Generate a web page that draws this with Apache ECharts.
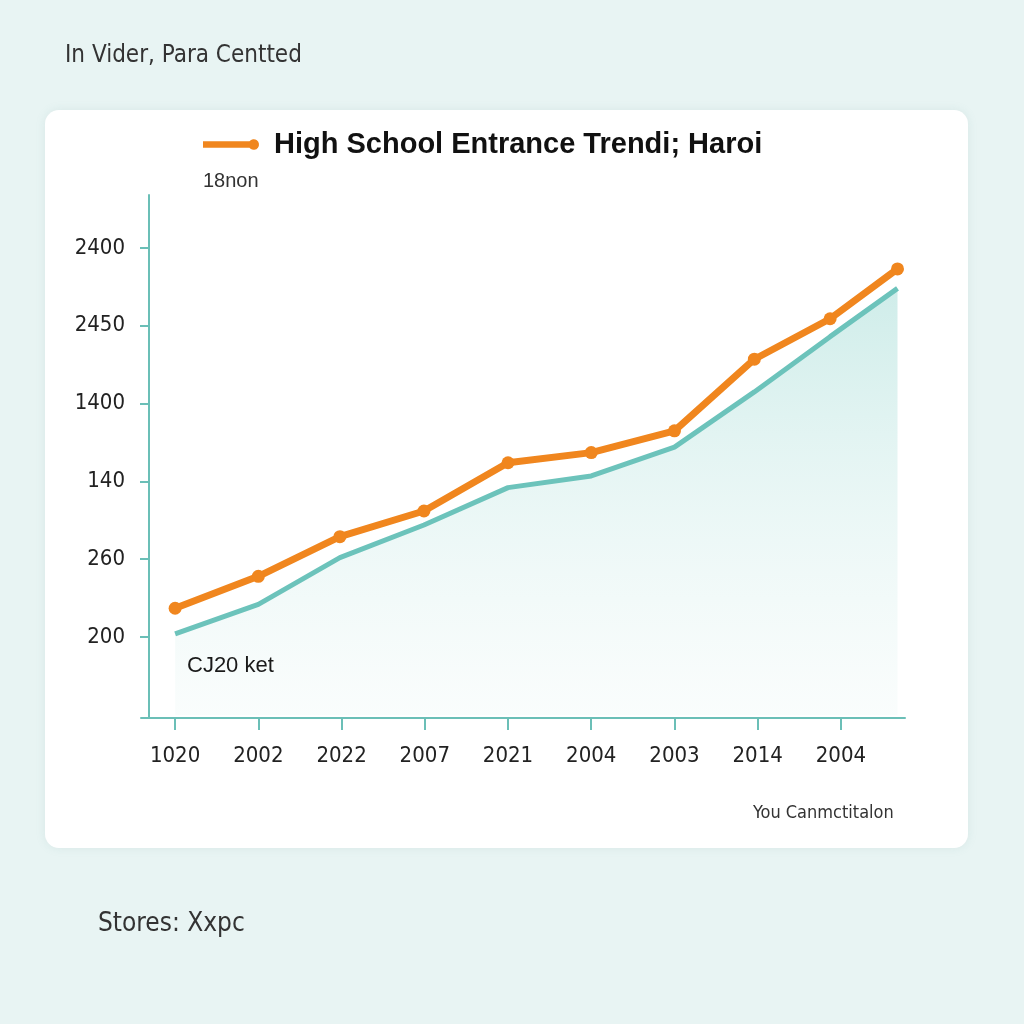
<!DOCTYPE html>
<html>
<head>
<meta charset="utf-8">
<script src="https://cdn.jsdelivr.net/npm/echarts@6/dist/echarts.min.js"></script>
<style>
html,body{margin:0;padding:0;background:#e8f4f3;}
#c{width:1024px;height:1024px;}
</style>
</head>
<body>
<div id="c"></div>
<script>
// ---- data ----
const xTickLabels = ['1020','2002','2022','2007','2021','2004','2003','2014','2004'];
const yTickLabels = ['200','260','140','1400','2450','2400']; // bottom -> top, at positions 1..6
const xPositions = [0, 1.0, 1.98, 2.99, 4.0, 5.0, 6.0, 6.96, 7.87, 8.68];
const orangeValues = [1.37, 1.78, 2.29, 2.62, 3.24, 3.37, 3.65, 4.57, 5.09, 5.73];
const tealValues = [1.04, 1.42, 2.02, 2.44, 2.92, 3.07, 3.44, 4.15, 4.86, 5.48];
const orangeName = 'High School Entrance Trendi; Haroi';
const tealName = 'Trend';

const cond = "'DejaVu Sans Condensed','Liberation Sans Narrow','Liberation Sans',sans-serif";
const sans = "'Liberation Sans',Arial,sans-serif";

const orangeData = xPositions.map((x, i) => [x, orangeValues[i]]);
const tealData = xPositions.map((x, i) => [x, tealValues[i]]);

const chart = echarts.init(document.getElementById('c'), null, {renderer: 'canvas'});
chart.setOption({
  backgroundColor: '#e8f4f3',
  animation: false,
  graphic: [
    {type: 'rect', z: -10, shape: {x: 45, y: 110, width: 923, height: 738, r: 14},
     style: {fill: '#ffffff', shadowBlur: 10, shadowColor: 'rgba(120,170,165,0.15)'}},
    {type: 'text', left: 65, top: 44, style: {text: 'In Vider, Para Centted', font: "24px " + cond, fill: '#333'}},
    {type: 'text', left: 203, top: 171, style: {text: '18non', font: "20px " + sans, fill: '#333'}},
    {type: 'text', left: 187, top: 655, z: 100, style: {text: 'CJ20 ket', font: "22px " + sans, fill: '#1a1a1a'}},
    {type: 'text', left: 753, top: 804, style: {text: 'You Canmctitalon', font: "18px " + cond, fill: '#333'}},
    {type: 'text', left: 98, top: 911, style: {text: 'Stores: Xxpc', font: "26px " + cond, fill: '#333'}}
  ],
  legend: {
    data: [orangeName],
    left: 203, top: 130, padding: 0,
    itemWidth: 56, itemHeight: 12,
    icon: 'path://M0,2 H44 A5,5 0 1 1 44,8 H0 Z',
    textStyle: {fontFamily: sans, fontSize: 29, fontWeight: 'bold', color: '#111', padding: [0, 0, 0, 10]}
  },
  grid: {left: 141, right: 119, top: 195, bottom: 306, containLabel: false},
  xAxis: {
    type: 'value', min: -0.41, max: 8.77,
    splitLine: {show: false},
    axisLine: {show: true, onZero: false, lineStyle: {color: '#6bbfb7', width: 2}},
    axisTick: {show: true, length: 12, lineStyle: {color: '#6bbfb7', width: 2}, customValues: [0,1,2,3,4,5,6,7,8]},
    axisLabel: {customValues: [0,1,2,3,4,5,6,7,8], margin: 27, color: '#222', fontFamily: cond, fontSize: 22,
      formatter: v => xTickLabels[Math.round(v)] || ''}
  },
  yAxis: {
    type: 'value', min: -0.04, max: 6.68, offset: -8,
    splitLine: {show: false},
    axisLine: {show: true, onZero: false, lineStyle: {color: '#6bbfb7', width: 2}},
    axisTick: {show: true, length: 9, lineStyle: {color: '#6bbfb7', width: 2}, customValues: [1,2,3,4,5,6]},
    axisLabel: {customValues: [1,2,3,4,5,6], margin: 24, color: '#222', fontFamily: cond, fontSize: 22,
      formatter: v => yTickLabels[Math.round(v) - 1] || ''}
  },
  series: [
    {
      name: tealName, type: 'line', data: tealData, symbol: 'none', z: 2,
      lineStyle: {color: '#6cc3bb', width: 5},
      areaStyle: {color: new echarts.graphic.LinearGradient(0, 0, 0, 1, [
        {offset: 0, color: 'rgba(150,215,208,0.65)'},
        {offset: 1, color: 'rgba(230,245,243,0.3)'}
      ])}
    },
    {
      name: orangeName, type: 'line', data: orangeData, z: 3,
      symbol: 'circle', symbolSize: 13,
      itemStyle: {color: '#f0861e'},
      lineStyle: {color: '#f0861e', width: 7}
    }
  ]
});
</script>
</body>
</html>
